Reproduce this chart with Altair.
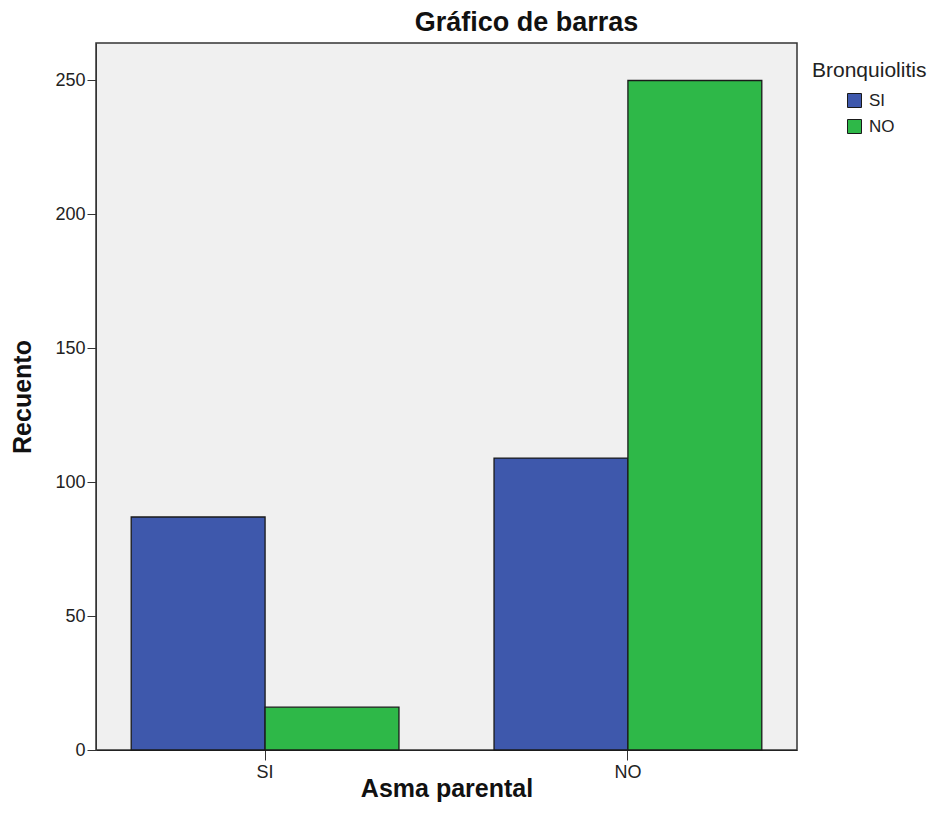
import altair as alt
import pandas as pd

asma = ["SI", "SI", "NO", "NO"]
bronq = ["SI", "NO", "SI", "NO"]
recuento = [87, 16, 109, 250]

df = pd.DataFrame({"Asma parental": asma, "Bronquiolitis": bronq, "Recuento": recuento})

FONT = "Liberation Sans"

bars = alt.Chart(df).mark_bar(stroke="#1a1a1a", strokeWidth=1.3).encode(
    x=alt.X("Asma parental:N", sort=["SI", "NO"],
            scale=alt.Scale(paddingInner=0.262, paddingOuter=0.097),
            axis=alt.Axis(title="Asma parental", labelAngle=0, titleFontSize=25,
                          titleFontWeight="bold", titlePadding=-5, labelFontSize=18,
                          labelColor="#222", titleColor="#111", tickColor="#333",
                          domainColor="#222", tickSize=10, labelPadding=3,
                          labelFont=FONT, titleFont=FONT)),
    xOffset=alt.XOffset("Bronquiolitis:N", sort=["SI", "NO"],
                        scale=alt.Scale(paddingInner=0, paddingOuter=0)),
    y=alt.Y("Recuento:Q", scale=alt.Scale(domain=[0, 264], nice=False),
            axis=alt.Axis(title="Recuento", values=[0, 50, 100, 150, 200, 250],
                          grid=False, titleFontSize=25, titleFontWeight="bold",
                          titlePadding=19, labelFontSize=18, labelColor="#222",
                          titleColor="#111", tickColor="#333", domainColor="#333",
                          tickSize=9, labelPadding=2, labelFont=FONT, titleFont=FONT)),
    color=alt.Color("Bronquiolitis:N", sort=["SI", "NO"],
                    scale=alt.Scale(domain=["SI", "NO"], range=["#3E58AC", "#2EB848"]),
                    legend=alt.Legend(title="Bronquiolitis", orient="none",
                                      legendX=716, legendY=17, titleFontSize=21,
                                      titleFontWeight="normal", titleColor="#222",
                                      labelFontSize=17, labelColor="#222",
                                      symbolType="square", symbolSize=196,
                                      symbolStrokeColor="#1a1a1a", symbolStrokeWidth=1,
                                      symbolOffset=34, rowPadding=7, titlePadding=11,
                                      labelOffset=6, labelFont=FONT, titleFont=FONT)),
)

chart = bars.properties(
    width=701, height=707,
    title=alt.TitleParams("Gráfico de barras", fontSize=27, fontWeight="bold",
                          font=FONT, color="#111", anchor="middle", dx=80, offset=6),
    autosize=alt.AutoSizeParams(type="none"),
    padding={"left": 88, "top": 35, "right": 131, "bottom": 70},
    background="white",
).configure_view(fill="#F0F0F0", stroke="#333", strokeWidth=1.5)

chart.save("out.html", embed_options={"renderer": "svg", "actions": False})
